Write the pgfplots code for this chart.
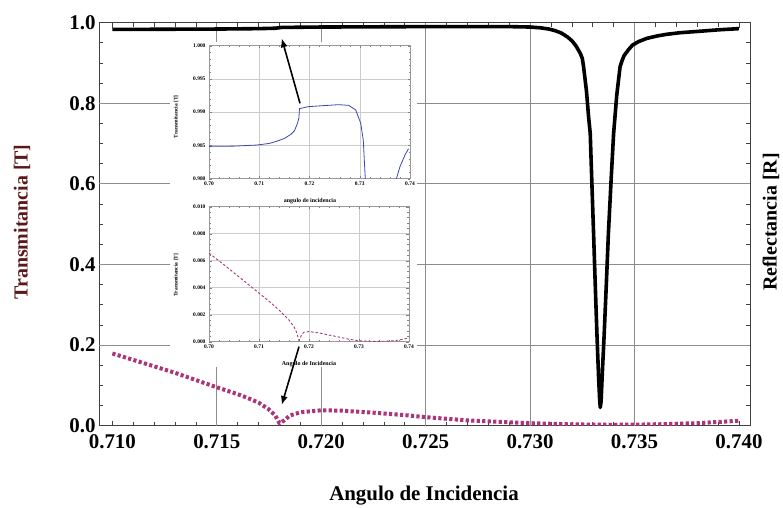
\documentclass[border=0pt]{standalone}
\usepackage{pgfplots}
\pgfplotsset{compat=1.18}
\usetikzlibrary{arrows.meta}
\usepackage{fontspec}
\setmainfont{Liberation Serif}
\definecolor{mag}{RGB}{172,52,122}
\definecolor{ibl}{RGB}{60,72,170}
\definecolor{tcol}{RGB}{90,25,25}

\begin{document}
\begin{tikzpicture}
% ---------------- main axis ----------------
\begin{axis}[
  at={(99bp,82.4bp)}, anchor=south west, scale only axis,
  width=651bp, height=403bp,
  xmin=0.70936, xmax=0.74053, ymin=0, ymax=1,
  xtick={0.710,0.715,0.720,0.725,0.730,0.735,0.740},
  ytick={0,0.2,0.4,0.6,0.8,1.0},
  minor x tick num=4, minor y tick num=3,
  scaled ticks=false,
  xticklabel style={yshift=-5bp, /pgf/number format/.cd, fixed, fixed zerofill, precision=3},
  yticklabel style={/pgf/number format/.cd, fixed, fixed zerofill, precision=1},
  /pgf/number format/assume math mode=true,
  tick label style={font=\bfseries\fontsize{21}{21}\selectfont},
  axis line style={black!75, line width=0.8bp},
  tick style={black!75, line width=0.6bp},
  major tick length=5bp, minor tick length=4bp,
  extra x ticks={0.715,0.720,0.725,0.730,0.735},
  extra y ticks={0.2,0.4,0.6,0.8},
  extra tick style={grid=major, major tick length=0pt, xticklabel={}, yticklabel={}},
  major grid style={black!45, line width=0.7bp},
]
\addplot[black, line width=3.6bp, line join=round] coordinates {
(0.7100,0.983) (0.7150,0.984) (0.7170,0.985) (0.7178,0.986) (0.7181,0.988)
(0.7200,0.989) (0.7250,0.990) (0.7290,0.990) (0.7300,0.989) (0.7305,0.987)
(0.7309,0.984) (0.7312,0.980) (0.7315,0.974) (0.7318,0.964) (0.7320,0.955)
(0.7322,0.942) (0.7324,0.924) (0.7325,0.911) (0.73256,0.891) (0.7327,0.830)
(0.7328,0.767) (0.73288,0.725) (0.73296,0.600) (0.73304,0.477)
(0.73312,0.350) (0.7332,0.229) (0.73328,0.120) (0.73333,0.065) (0.73336,0.045)
(0.73340,0.060) (0.73345,0.120)
(0.73355,0.229) (0.73365,0.350) (0.73375,0.477) (0.73388,0.610) (0.7340,0.725)
(0.73415,0.820) (0.73431,0.891) (0.7344,0.905) (0.7345,0.918) (0.7347,0.932)
(0.7349,0.944) (0.7352,0.953) (0.7356,0.961) (0.7361,0.967) (0.73655,0.971)
(0.7372,0.975) (0.7380,0.978) (0.7390,0.982) (0.7400,0.985)
};
\addplot[mag, line width=4bp, dash pattern=on 3.2bp off 2.3bp] coordinates {
(0.7100,0.179) (0.7110,0.163) (0.7120,0.147) (0.7130,0.131) (0.7140,0.113)
(0.7150,0.095) (0.7160,0.078) (0.7165,0.068) (0.7170,0.057) (0.7175,0.040)
(0.7178,0.025) (0.7180,0.006) (0.7182,0.012) (0.7185,0.025) (0.7190,0.033)
(0.7200,0.038) (0.7210,0.037) (0.7225,0.032) (0.7240,0.026) (0.7250,0.021)
(0.7270,0.013) (0.7300,0.006) (0.7320,0.003) (0.7340,0.002) (0.7360,0.003)
(0.7380,0.006) (0.7400,0.012)
};
\end{axis}

% white backdrop for insets
\fill[white] (170bp,141bp) rectangle (417bp,466bp);

% ---------------- upper inset ----------------
\begin{axis}[
  at={(209bp,329.3bp)}, anchor=south west, scale only axis,
  width=201bp, height=133bp,
  xmin=0.70, xmax=0.74, ymin=0.98, ymax=1.0,
  xtick={0.70,0.71,0.72,0.73,0.74},
  ytick={0.980,0.985,0.990,0.995,1.000},
  minor x tick num=4, minor y tick num=4, scaled ticks=false,
  xticklabel style={/pgf/number format/.cd, fixed, fixed zerofill, precision=2},
  yticklabel style={/pgf/number format/.cd, fixed, fixed zerofill, precision=3},
  /pgf/number format/assume math mode=true,
  tick label style={font=\bfseries\fontsize{5.5}{6}\selectfont},
  grid=major, major grid style={black!20, line width=0.4bp},
  axis line style={black!40, line width=0.5bp},
  tick style={black!50, line width=0.3bp},
  major tick length=2.5bp, minor tick length=1.5bp,
  axis background/.style={fill=white},
]
\addplot[ibl, line width=0.8bp] coordinates {
(0.7000,0.98486) (0.7050,0.98490) (0.7095,0.98506) (0.7120,0.98530) (0.7136,0.98566)
(0.7150,0.98605) (0.7163,0.98667) (0.7170,0.98720) (0.7176,0.98832) (0.7179,0.98917)
(0.7180,0.99053) (0.7197,0.99083) (0.7230,0.99100) (0.7258,0.99113) (0.7278,0.99103)
(0.7292,0.99033) (0.7302,0.98832) (0.7307,0.98581) (0.7311,0.98000) (0.7313,0.97500)
};
\addplot[ibl, line width=0.8bp] coordinates {
(0.7370,0.97700) (0.7373,0.98000) (0.7380,0.98180) (0.7390,0.98356) (0.7397,0.98451)
};
\end{axis}

% ---------------- lower inset ----------------
\begin{axis}[
  at={(209bp,166.3bp)}, anchor=south west, scale only axis,
  width=200bp, height=135bp,
  xmin=0.70, xmax=0.74, ymin=0, ymax=0.010,
  xtick={0.70,0.71,0.72,0.73,0.74},
  ytick={0,0.002,0.004,0.006,0.008,0.010},
  minor x tick num=4, minor y tick num=4, scaled ticks=false,
  xticklabel style={/pgf/number format/.cd, fixed, fixed zerofill, precision=2},
  yticklabel style={/pgf/number format/.cd, fixed, fixed zerofill, precision=3},
  /pgf/number format/assume math mode=true,
  tick label style={font=\bfseries\fontsize{5.5}{6}\selectfont},
  grid=major, major grid style={black!20, line width=0.4bp},
  axis line style={black!40, line width=0.5bp},
  tick style={black!50, line width=0.3bp},
  major tick length=2.5bp, minor tick length=1.5bp,
  axis background/.style={fill=white},
]
\addplot[mag, line width=0.9bp, dash pattern=on 2.5bp off 2bp] coordinates {
(0.700,0.00656) (0.703,0.00570) (0.706,0.00480) (0.709,0.00390) (0.712,0.00300)
(0.714,0.00235) (0.716,0.00160) (0.717,0.00110) (0.7175,0.00070) (0.718,0.00010)
(0.7185,0.00050) (0.719,0.00070) (0.720,0.00075) (0.722,0.00065) (0.725,0.00042)
(0.728,0.00018) (0.730,0.00007) (0.733,0.00002) (0.736,0.00004) (0.738,0.00012)
(0.740,0.00028)
};
\end{axis}

% arrows
\draw[-{Latex[length=9bp,width=7bp]}, line width=1.6bp] (300bp,404.7bp) -- (281.7bp,469.7bp);
\draw[-{Latex[length=9bp,width=7bp]}, line width=1.6bp] (299bp,161.3bp) -- (281.7bp,103bp);

% labels
\node[rotate=90, font=\bfseries\fontsize{20}{20}\selectfont, text=tcol] at (22bp,286bp) {Transmitancia [T]};
\node[rotate=90, font=\bfseries\fontsize{20}{20}\selectfont] at (771bp,286bp) {Reflectancia [R]};
\node[font=\bfseries\fontsize{21}{21}\selectfont] at (424bp,12.5bp) {Angulo de Incidencia};
\node[rotate=90, font=\bfseries\fontsize{5.5}{6}\selectfont] at (176bp,391.3bp) {Transmitancia [T]};
\node[rotate=90, font=\bfseries\fontsize{5.5}{6}\selectfont] at (176bp,233bp) {Transmitancia [T]};
\node[font=\bfseries\fontsize{6}{6}\selectfont] at (310bp,307.3bp) {angulo de incidencia};
\node[font=\bfseries\fontsize{6}{6}\selectfont] at (309bp,144bp) {Angulo de Incidencia};

\pgfresetboundingbox
\useasboundingbox (0,0) rectangle (783bp,508bp);
\end{tikzpicture}
\end{document}
